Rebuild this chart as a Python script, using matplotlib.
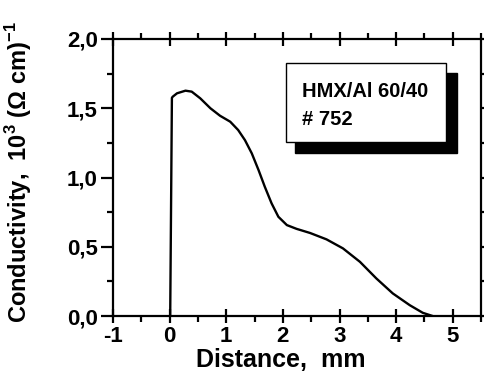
import matplotlib
matplotlib.use("Agg")
import matplotlib.pyplot as plt
from matplotlib.patches import Rectangle
from matplotlib.ticker import MultipleLocator

plt.rcParams["font.family"] = ["Liberation Sans", "DejaVu Sans"]
plt.rcParams["font.weight"] = "bold"
plt.rcParams["axes.unicode_minus"] = False
plt.rcParams["mathtext.fontset"] = "custom"
plt.rcParams["mathtext.rm"] = "Liberation Sans:bold"
plt.rcParams["mathtext.bf"] = "Liberation Sans:bold"

# conductivity profile
distance = [0.01, 0.04, 0.053, 0.13, 0.28, 0.39, 0.54, 0.72, 0.89, 1.07,
            1.21, 1.33, 1.45, 1.57, 1.68, 1.80, 1.92, 2.07, 2.24, 2.48,
            2.77, 3.06, 3.36, 3.65, 3.94, 4.24, 4.47, 4.65]
conductivity = [0.0, 1.575, 1.583, 1.608, 1.627, 1.62, 1.572, 1.50, 1.446,
                1.403, 1.343, 1.27, 1.175, 1.054, 0.934, 0.814, 0.717,
                0.657, 0.630, 0.60, 0.554, 0.489, 0.392, 0.272, 0.164,
                0.079, 0.024, 0.0]

sample_lines = ["HMX/Al 60/40", "# 752"]

fig = plt.figure(figsize=(4.85, 3.86), dpi=100)
ax = fig.add_axes([0.233, 0.181, 0.759, 0.718])

ax.plot(distance, conductivity, color="black", lw=1.7,
        solid_joinstyle="round")

ax.set_xlim(-1, 5.5)
ax.set_ylim(0, 2.0)
ax.xaxis.set_major_locator(MultipleLocator(1))
ax.xaxis.set_minor_locator(MultipleLocator(0.5))
ax.yaxis.set_major_locator(MultipleLocator(0.5))
ax.yaxis.set_minor_locator(MultipleLocator(0.25))
ax.yaxis.set_major_formatter(lambda v, pos: f"{v:.1f}".replace(".", ","))

for s in ax.spines.values():
    s.set_linewidth(1.6)

ax.tick_params(axis="x", which="major", direction="inout", length=10,
               width=1.6, labelsize=16, pad=2)
ax.tick_params(axis="x", which="minor", direction="out", length=4, width=1.6)
ax.tick_params(axis="y", which="major", direction="out", length=9,
               width=1.6, labelsize=16, pad=2)
ax.tick_params(axis="y", which="minor", direction="out", length=4, width=1.6)
ax.tick_params(which="both", top=True, right=True)

ax.set_xlabel("Distance,  mm", fontsize=18, fontweight="bold")
ax.xaxis.set_label_coords(0.455, -0.115)
ax.set_ylabel(r"Conductivity,  10$^{\mathbf{3}}$ (Ω cm)$^{\mathbf{-1}}$",
              fontsize=17, fontweight="bold")
ax.yaxis.set_label_coords(-0.215, 0.52)

# boxed sample label with drop shadow
ax.add_patch(Rectangle((0.495, 0.590), 0.439, 0.286, transform=ax.transAxes,
                       facecolor="black", edgecolor="black", zorder=3))
ax.add_patch(Rectangle((0.469, 0.629), 0.435, 0.283, transform=ax.transAxes,
                       facecolor="white", edgecolor="black", lw=1.0,
                       zorder=4))
ax.text(0.514, 0.792, sample_lines[0], transform=ax.transAxes,
        fontsize=14.5, fontweight="bold", va="baseline", zorder=5)
ax.text(0.514, 0.690, sample_lines[1], transform=ax.transAxes,
        fontsize=14.5, fontweight="bold", va="baseline", zorder=5)

fig.savefig("out.png", dpi=100)
